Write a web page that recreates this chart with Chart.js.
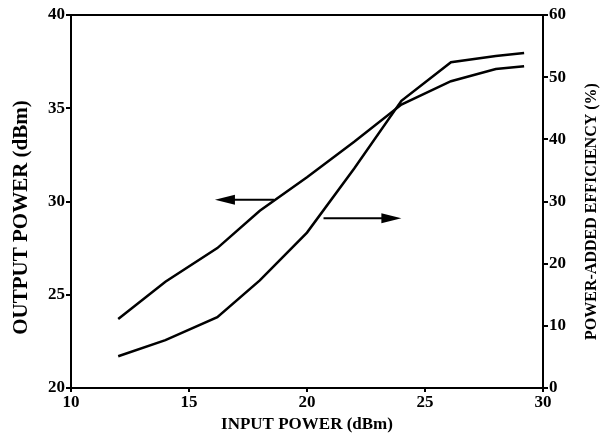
<!DOCTYPE html>
<html lang="en">
<head>
    <meta charset="UTF-8">
    <title>Output Power and PAE vs Input Power</title>
    <script src="https://cdn.jsdelivr.net/npm/chart.js"></script>
    <style>
        body { margin: 0; background: #fff; }
        canvas { display: block; }
    </style>
</head>
<body>
    <canvas id="paChart" width="608" height="442"></canvas>
    <script>
        // values
        const inputPower = [12, 14, 16.2, 18, 20, 22, 24, 26.1, 28, 29.2];
        const outputPower = [23.7, 25.7, 27.5, 29.5, 31.3, 33.2, 35.2, 36.45, 37.1, 37.25];
        const efficiency = [5.1, 7.7, 11.4, 17.3, 25.0, 35.3, 46.2, 52.4, 53.4, 53.9];

        const xTitle = 'INPUT POWER (dBm)';
        const leftTitle = 'OUTPUT POWER (dBm)';
        const rightTitle = 'POWER-ADDED EFFICIENCY (%)';

        // arrows: [fromX, toX, yValue, axis]
        const arrowOut = [18.6, 16.1, 30.1, 'y'];
        const arrowPae = [20.7, 24.0, 27.3, 'y1'];

        const serif = "'Liberation Serif', 'DejaVu Serif', serif";
        const tickFont = { family: serif, size: 17, weight: 'bold' };

        function toPoints(xs, ys) {
            return xs.map((x, i) => ({ x: x, y: ys[i] }));
        }

        function sideTitle(c, text, size, x, y) {
            c.save();
            c.font = 'bold ' + size + 'px ' + serif;
            c.textAlign = 'center';
            c.textBaseline = 'middle';
            c.translate(x, y);
            c.rotate(-Math.PI / 2);
            c.fillText(text, 0, 0);
            c.restore();
        }

        const extras = {
            id: 'extras',
            afterDraw(chart) {
                const c = chart.ctx;
                const area = chart.chartArea;
                const xs = chart.scales.x;
                const midY = (area.top + area.bottom) / 2;
                c.save();
                c.strokeStyle = '#000';
                c.fillStyle = '#000';
                // top frame line
                c.lineWidth = 2;
                c.beginPath();
                c.moveTo(area.left - 1, area.top);
                c.lineTo(area.right + 1, area.top);
                c.stroke();

                // arrows
                [arrowOut, arrowPae].forEach(a => {
                    const ys = chart.scales[a[3]];
                    const x0 = xs.getPixelForValue(a[0]);
                    const x1 = xs.getPixelForValue(a[1]);
                    const y = ys.getPixelForValue(a[2]);
                    const dir = Math.sign(x1 - x0);
                    c.lineWidth = 2;
                    c.beginPath();
                    c.moveTo(x0, y);
                    c.lineTo(x1 - dir * 16, y);
                    c.stroke();
                    c.beginPath();
                    c.moveTo(x1, y);
                    c.lineTo(x1 - dir * 20, y - 5);
                    c.lineTo(x1 - dir * 20, y + 5);
                    c.closePath();
                    c.fill();
                });
                c.restore();

                // axis titles on both sides, reading bottom to top
                sideTitle(c, leftTitle, 21, 22, midY + 16);
                sideTitle(c, rightTitle, 16, chart.width - 16, midY + 10);
            }
        };

        const ctx = document.getElementById('paChart').getContext('2d');
        const paChart = new Chart(ctx, {
            type: 'line',
            data: {
                datasets: [{
                    label: 'Output power',
                    data: toPoints(inputPower, outputPower),
                    yAxisID: 'y',
                    borderColor: '#000',
                    borderWidth: 2.5,
                    pointRadius: 0,
                    tension: 0,
                    fill: false
                }, {
                    label: 'PAE',
                    data: toPoints(inputPower, efficiency),
                    yAxisID: 'y1',
                    borderColor: '#000',
                    borderWidth: 2.5,
                    pointRadius: 0,
                    tension: 0,
                    fill: false
                }]
            },
            options: {
                responsive: false,
                animation: false,
                layout: { padding: { top: 15, left: 0, right: 0, bottom: 0 } },
                plugins: {
                    legend: { display: false },
                    tooltip: { enabled: false }
                },
                scales: {
                    x: {
                        type: 'linear',
                        min: 10, max: 30,
                        ticks: { stepSize: 5, color: '#000', font: tickFont, padding: 0, maxRotation: 0 },
                        grid: { drawOnChartArea: false, color: '#000', tickLength: 4, lineWidth: 2 },
                        border: { color: '#000', width: 2 },
                        title: {
                            display: true, text: xTitle, color: '#000',
                            font: { family: serif, size: 17, weight: 'bold' },
                            padding: { top: 0, bottom: 7 }
                        },
                        afterFit: s => { s.height = 54; }
                    },
                    y: {
                        position: 'left',
                        min: 20, max: 40,
                        ticks: { stepSize: 5, color: '#000', font: tickFont, padding: 1 },
                        grid: { drawOnChartArea: false, color: '#000', tickLength: 5, lineWidth: 2 },
                        border: { color: '#000', width: 2 },
                        afterFit: s => { s.width = 71; }
                    },
                    y1: {
                        position: 'right',
                        min: 0, max: 60,
                        ticks: { stepSize: 10, color: '#000', font: tickFont, padding: 1 },
                        grid: { drawOnChartArea: false, color: '#000', tickLength: 5, lineWidth: 2 },
                        border: { color: '#000', width: 2 },
                        afterFit: s => { s.width = 65; }
                    }
                }
            },
            plugins: [extras]
        });
    </script>
</body>
</html>
